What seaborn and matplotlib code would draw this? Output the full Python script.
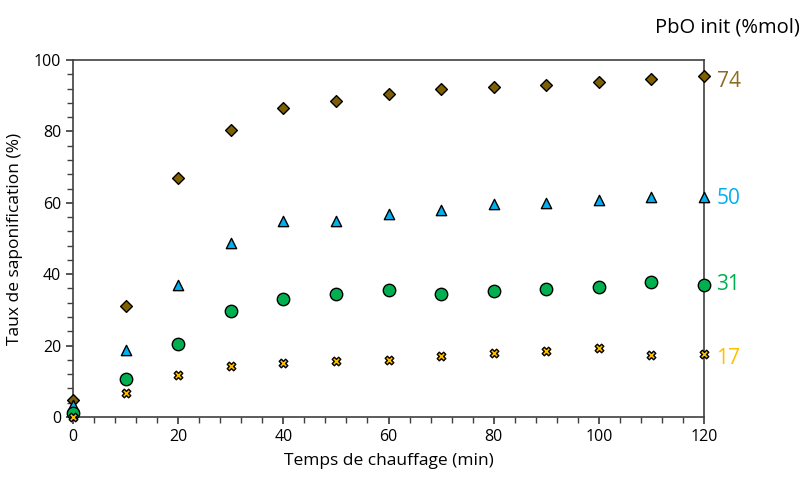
import numpy as np
import pandas as pd
import matplotlib
matplotlib.use("Agg")
import matplotlib.pyplot as plt
from matplotlib.ticker import MultipleLocator
import seaborn as sns

sns.set_theme(style="ticks")
plt.rcParams['font.family'] = ['Open Sans', 'DejaVu Sans']

temps = [0, 10, 20, 30, 40, 50, 60, 70, 80, 90, 100, 110, 120]
pbo_74 = [4.8, 31.1, 67.0, 80.4, 86.5, 88.5, 90.5, 91.9, 92.4, 92.9, 93.8, 94.8, 95.5]
pbo_50 = [3.4, 18.8, 36.9, 48.7, 54.9, 54.9, 56.9, 58.0, 59.7, 60.0, 60.8, 61.5, 61.5]
pbo_31 = [1.1, 10.6, 20.4, 29.7, 33.0, 34.5, 35.7, 34.4, 35.3, 35.9, 36.4, 37.8, 37.1]
pbo_17 = [0.0, 6.7, 11.8, 14.3, 15.2, 15.8, 16.1, 17.0, 17.8, 18.4, 19.3, 17.4, 17.6]

series = ["74", "50", "31", "17"]
values = [pbo_74, pbo_50, pbo_31, pbo_17]
colors = {"74": "#7F6000", "50": "#00B0F0", "31": "#00B050", "17": "#FFC000"}
label_colors = {"74": "#8C6D1F", "50": "#00B0F0", "31": "#00B050", "17": "#FFC000"}
markers = {"74": "D", "50": "^", "31": "o", "17": "X"}
sizes = {"74": 36, "50": 55, "31": 80, "17": 38}
# small vertical nudge of the right-hand labels (points)
label_dy = {"74": -4, "50": -1, "31": 0, "17": -3}

df = pd.concat([pd.DataFrame({"temps": temps, "taux": v, "pbo": s})
                for s, v in zip(series, values)])

fig = plt.figure(figsize=(8.05, 4.79), dpi=100)
ax = fig.add_axes([73 / 805, 1 - 417 / 479, (704 - 73) / 805, (417 - 60) / 479])

for s in series:
    sub = df[df["pbo"] == s]
    sns.scatterplot(data=sub, x="temps", y="taux", ax=ax, color=colors[s],
                    marker=markers[s], s=sizes[s], edgecolor="black",
                    linewidth=1.0, zorder=3, clip_on=False, legend=False)
    last = sub["taux"].iloc[-1]
    ax.annotate(s, xy=(sub["temps"].iloc[-1], last), xytext=(9, label_dy[s]),
                textcoords="offset points", va="center", ha="left",
                fontsize=15, color=label_colors[s], annotation_clip=False)

ax.set_xlim(0, 120)
ax.set_ylim(0, 100)
ax.xaxis.set_major_locator(MultipleLocator(20))
ax.xaxis.set_minor_locator(MultipleLocator(4))
ax.yaxis.set_major_locator(MultipleLocator(20))
ax.yaxis.set_minor_locator(MultipleLocator(4))
ax.tick_params(which="both", direction="out", top=False, right=False,
               color="#404040", labelsize=11.5, labelcolor="black")
ax.tick_params(which="major", length=5)
ax.tick_params(which="minor", length=4)
for sp in ax.spines.values():
    sp.set_visible(True)
    sp.set_color("#404040")
    sp.set_linewidth(1.2)

ax.set_xlabel("Temps de chauffage (min)", fontsize=12.5, color="black", labelpad=6)
ax.set_ylabel("Taux de saponification (%)", fontsize=12.5, color="black", labelpad=8)

fig.text(800 / 805, 1 - 27 / 479, "PbO init (%mol)", ha="right", va="center",
         fontsize=14.5, color="black")

fig.savefig("out.png", dpi=100)
